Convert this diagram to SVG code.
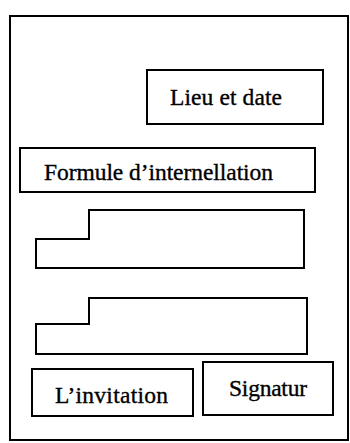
<svg xmlns="http://www.w3.org/2000/svg" width="350" height="443" viewBox="0 0 350 443">
<style>
.box{fill:none;stroke:#000;stroke-width:2}
.t{font-family:"Liberation Serif","Times New Roman",serif;fill:#000;stroke:#000;stroke-width:0.35;font-size:23.5px}
</style>
<rect width="350" height="443" fill="#fff"/>
<g id="page"><rect class="box" x="10" y="16" width="338" height="424"/></g>
<g id="lieu"><rect class="box" x="147" y="70" width="176" height="54"/><text class="t" x="170" y="105" textLength="112">Lieu et date</text></g>
<g id="formule"><rect class="box" x="20" y="148" width="295" height="44"/><text class="t" x="44" y="180" textLength="229">Formule d’internellation</text></g>
<g id="para1"><path class="box" d="M89,210 H304 V268 H36 V239 H89 Z"/></g>
<g id="para2"><path class="box" d="M89,298 H307 V354 H36 V324 H89 Z"/></g>
<g id="invitation"><rect class="box" x="32" y="369" width="161" height="47"/><text class="t" x="55" y="403" textLength="113">L’invitation</text></g>
<g id="signatur"><rect class="box" x="203" y="362" width="130" height="53"/><text class="t" x="229" y="396" textLength="78">Signatur</text></g>
<g id="connectors"></g>
</svg>
